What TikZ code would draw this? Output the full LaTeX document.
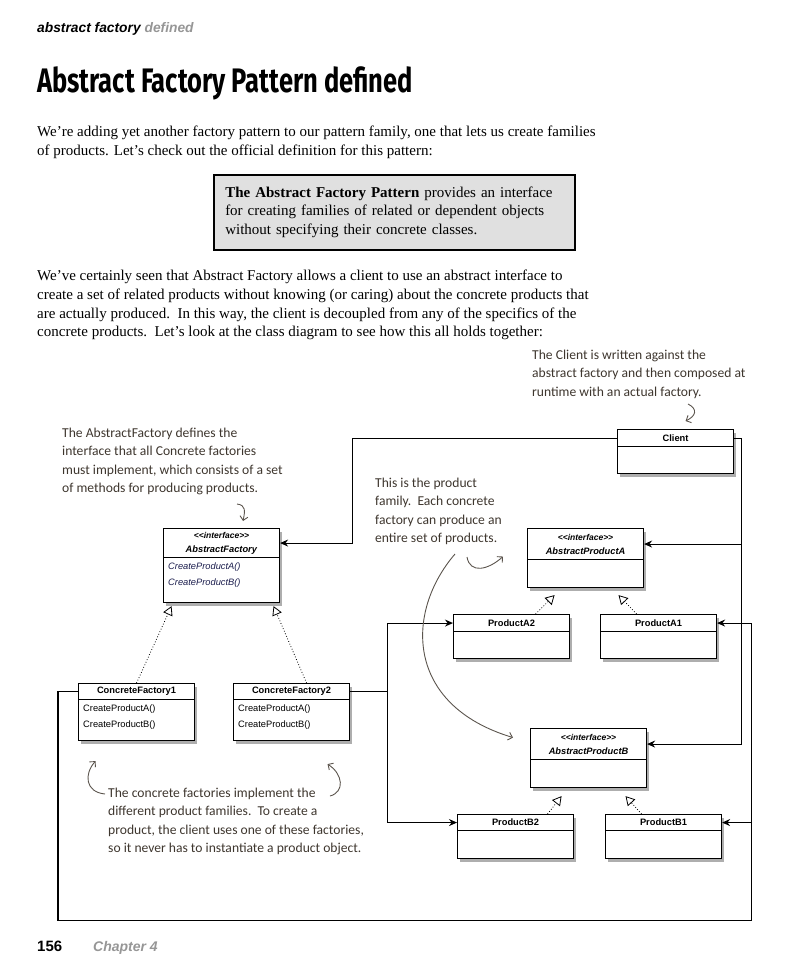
\documentclass[tikz,border=0pt]{standalone}
\usepackage{fontspec}
\setmainfont{Liberation Serif}
\setsansfont{Liberation Sans}
\newfontfamily\handfont{Carlito}
\newfontfamily\markerfont{Fira Sans}
\usepackage{graphicx}
\usetikzlibrary{positioning,calc,shadows,arrows.meta}
\definecolor{handink}{RGB}{62,54,46}
\definecolor{defgray}{RGB}{224,224,224}
\definecolor{pagegray}{RGB}{150,150,150}
\definecolor{opsink}{RGB}{28,30,78}
\newcommand{\iface}{{\fontsize{8.5}{14}\selectfont\textit{<\kern0pt<interface>\kern0pt>}}}
\newcommand{\umlclass}[6]{%
  \node[clsbody, minimum height=#4] (#1) at (#2) {};
  \node[clshead, minimum height=#3] (#1-h) at (#1.north) {#5};
  \node[clsops] (#1-o) at (#1-h.south west) {#6};}

\begin{document}
\begin{tikzpicture}[x=1pt,y=-1pt]

\tikzset{
  clsbody/.style={rectangle, draw=black, fill=white, line width=1.1pt,
    minimum width=116pt, inner sep=0pt, anchor=north west,
    drop shadow={shadow xshift=2.5pt, shadow yshift=-3pt, fill=black!70, opacity=0.45}},
  clshead/.style={rectangle, draw=black, line width=1.1pt, minimum width=116pt,
    inner sep=0pt, anchor=north, align=center,
    font=\sffamily\bfseries\fontsize{9.3}{14}\selectfont},
  clsops/.style={anchor=north west, align=left, inner xsep=5pt, inner ysep=4.5pt,
    font=\sffamily\fontsize{9.3}{15.5}\selectfont},
  para/.style={anchor=north west, align=left, inner sep=0pt,
    font=\fontsize{15}{18.7}\selectfont},
  hand/.style={anchor=north west, align=left, inner sep=0pt, text=handink,
    font=\handfont\fontsize{13.6}{18.2}\selectfont},
  assoc/.style={line width=1.1pt, -{Stealth[length=8pt,width=7pt]}},
  realize/.style={line width=0.8pt, dotted, -{Triangle[open,length=9pt,width=10pt]}},
  scribble/.style={line width=0.9pt, draw=handink!85, -{Straight Barb[length=4pt,width=8pt]}}
}
\useasboundingbox (0,0) rectangle (809,959);

% page heading and title
\node[anchor=base west, inner sep=0pt, font=\sffamily\bfseries\itshape\fontsize{13.8}{16}\selectfont] (runhead) at (37,32) {abstract factory \textcolor{pagegray}{defined}};
\node[anchor=base west, inner sep=0pt] (title) at (37,92) {\scalebox{0.75}[1]{\markerfont\bfseries\fontsize{34}{34}\selectfont Abstract Factory Pattern defined}};

\node[para] (intro) at (37,126) {We're adding yet another factory pattern to our pattern family, one that lets us create families\\of products. Let's check out the official definition for this pattern:};

\node[anchor=north west, draw=black, line width=1.5pt, fill=defgray, minimum width=361pt, minimum height=75pt,
  text width=338pt, align=left, inner xsep=11.5pt, font=\fontsize{15}{18.5}\selectfont] (defn) at (213,174)
  {\textbf{The Abstract Factory Pattern} provides an interface\\for creating families of related or dependent objects\\without specifying their concrete classes.};

\node[para] (story) at (37,270) {We've certainly seen that Abstract Factory allows a client to use an abstract interface to\\create a set of related products without knowing (or caring) about the concrete products that\\are actually produced.\ \ In this way, the client is decoupled from any of the specifics of the\\concrete products.\ \ Let's look at the class diagram to see how this all holds together:};

% classes
\umlclass{client}{617,429}{17pt}{44pt}{Client}{}
\umlclass{af}{163,528}{29pt}{74pt}{\iface\\\textit{AbstractFactory}}{\color{opsink}\textit{CreateProductA()}\\\color{opsink}\textit{CreateProductB()}}
\umlclass{cf1}{78,683}{16pt}{57pt}{ConcreteFactory1}{CreateProductA()\\CreateProductB()}
\umlclass{cf2}{233,683}{16pt}{57pt}{ConcreteFactory2}{CreateProductA()\\CreateProductB()}
\umlclass{apa}{527,528}{31pt}{59pt}{\iface\\\textit{AbstractProductA}}{}
\umlclass{pa2}{453,614}{17pt}{44pt}{ProductA2}{}
\umlclass{pa1}{600,614}{17pt}{44pt}{ProductA1}{}
\umlclass{apb}{530,728}{31pt}{59pt}{\iface\\\textit{AbstractProductB}}{}
\umlclass{pb2}{457,814}{16pt}{44pt}{ProductB2}{}
\umlclass{pb1}{605,814}{16pt}{44pt}{ProductB1}{}

% associations
\draw[assoc] (client-h.west) -| ([xshift=72pt]af-h.east) -- (af-h.east);
\draw[assoc] (client-h.east) -| ([xshift=97pt]apa-h.east) -- (apa-h.east);
\draw[assoc] ([xshift=97pt]apa-h.east) |- (apb-h.east);
\draw[assoc] (cf2-h.east) -- ++(37,0) |- (pa2-h.west);
\draw[assoc] (cf2-h.east) -- ++(37,0) |- (pb2-h.west);
\draw[assoc] (cf1-h.west) -| ++(-20,229) -| ([xshift=34pt]pa1-h.east) -- (pa1-h.east);
\draw[assoc] ([xshift=30pt]pb1-h.east) -- (pb1-h.east);

% realizations
\draw[realize] (cf1.north) -- ([xshift=-50pt,yshift=-3pt]af.south);
\draw[realize] ([xshift=15pt]cf2.north) -- ([xshift=52pt,yshift=-3pt]af.south);
\draw[realize] ([xshift=24pt]pa2.north) -- ([xshift=-31pt,yshift=-7pt]apa.south);
\draw[realize] ([xshift=-22pt]pa1.north) -- ([xshift=33pt,yshift=-7pt]apa.south);
\draw[realize] ([xshift=32pt]pb2.north) -- ([xshift=-27pt,yshift=-8pt]apb.south);
\draw[realize] ([xshift=-22pt]pb1.north) -- ([xshift=37pt,yshift=-8pt]apb.south);

% notes
\node[hand] (clientnote) at (532,350) {The Client is written against the\\abstract factory and then composed at\\runtime with an actual factory.};
\node[hand] (afnote) at (62,428) {The AbstractFactory defines the\\interface that all Concrete factories\\must implement, which consists of a set\\of methods for producing products.};
\node[hand] (familynote) at (375,478) {This is the product\\family.\ \ Each concrete\\factory can produce an\\entire set of products.};
\node[hand] (cfnote) at (108,788) {The concrete factories implement the\\different product families.\ \ To create a\\product, the client uses one of these factories,\\so it never has to instantiate a product object.};

\coordinate (clientcurl) at (688,404);
\coordinate (afcurl) at (237,504);
\coordinate (hook) at (467,557);
\coordinate (familycurve) at (455,554);
\coordinate (cfcurlL) at (105,794);
\coordinate (cfcurlR) at (330,796);

\draw[scribble] (clientcurl) .. controls (698,409) and (696,416) .. ([xshift=10pt,yshift=8pt]client.north);
\draw[scribble] (afcurl) .. controls (246,505) and (245,511) .. ([xshift=21.5pt,yshift=7pt]af.north);
\draw[scribble] (hook) .. controls (470,574) and (488,570) .. ([xshift=-24pt,yshift=-12.5pt]apa-h.west);
\draw[scribble] (familycurve) .. controls (405,612) and (405,705) .. ([xshift=-17pt,yshift=6.5pt]apb-h.west);
\draw[scribble] (cfcurlL) .. controls (85,792) and (84,774) .. ([xshift=-41pt,yshift=-20pt]cf1.south);
\draw[scribble] (cfcurlR) .. controls (345,792) and (343,774) .. ([xshift=36pt,yshift=-23pt]cf2.south);

% footer
\node[anchor=base west, inner sep=0pt, font=\sffamily\bfseries\fontsize{15}{17}\selectfont] (pageno) at (37,951) {156};
\node[anchor=base west, inner sep=0pt, text=pagegray, font=\sffamily\bfseries\itshape\fontsize{14}{17}\selectfont] (chapter) at (93,951) {Chapter 4};
\end{tikzpicture}
\end{document}
